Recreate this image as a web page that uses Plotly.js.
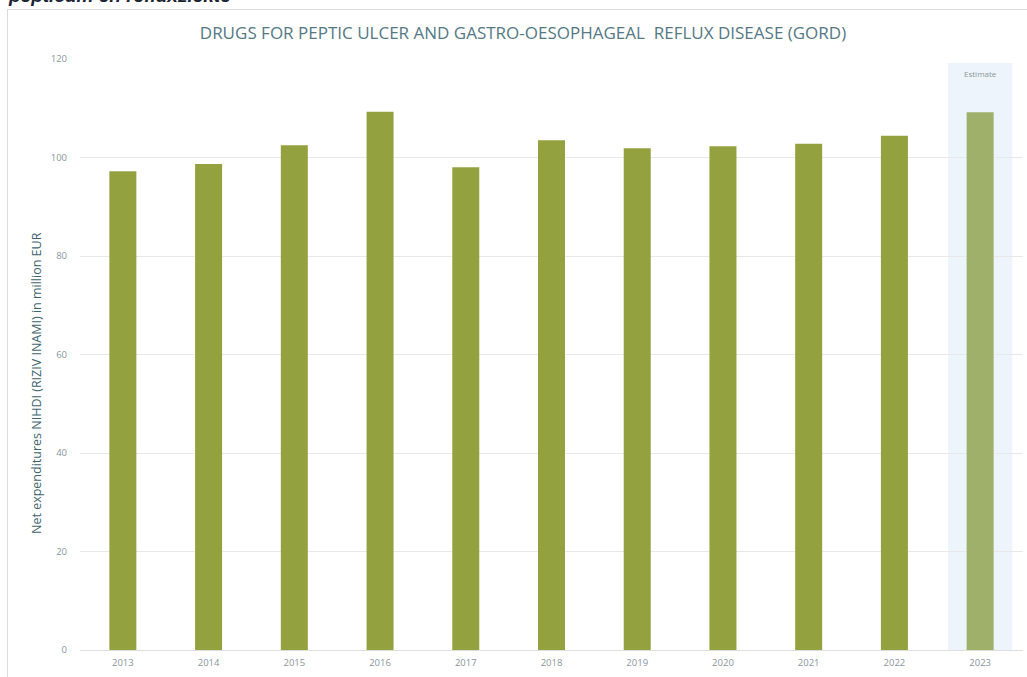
<!DOCTYPE html>
<html>
<head>
<meta charset="utf-8">
<script src="https://cdn.plot.ly/plotly-3.0.1.min.js"></script>
<style>
  html, body { margin: 0; padding: 0; background: #ffffff; overflow: hidden; }
  #frame { position: absolute; left: 7px; top: 9px; width: 1200px; height: 900px;
           border-top: 1px solid #dcdcdc; border-left: 1px solid #dcdcdc; }
  #chart { position: absolute; left: 0; top: 0; width: 1027px; height: 677px; }
</style>
</head>
<body>
<div id="frame"></div>
<div id="chart"></div>
<script>
// Data
const years = ["2013","2014","2015","2016","2017","2018","2019","2020","2021","2022","2023"];
const expenditure = [97.2, 98.7, 102.5, 109.3, 98.0, 103.5, 101.9, 102.3, 102.8, 104.4, 109.2];
const estimateYear = "2023";
const yTicks = [0, 20, 40, 60, 80, 100, 120];

const titleText = "DRUGS FOR PEPTIC ULCER AND GASTRO-OESOPHAGEAL  REFLUX DISEASE (GORD)";
const yTitleText = "Net expenditures NIHDI (RIZIV INAMI) in million EUR";
const topCaption = "pepticum en refluxziekte";

const barColors = years.map(y => y === estimateYear ? "#9fb06a" : "#93a23e");
const estIdx = years.indexOf(estimateYear);

const trace = {
  type: "bar",
  x: years,
  y: expenditure,
  marker: { color: barColors, line: { width: 0 } },
  hoverinfo: "x+y"
};

const plotTop = 59, plotBottom = 650, plotH = plotBottom - plotTop;
const plotLeft = 80, plotW = 943;

const layout = {
  width: 1027,
  height: 677,
  margin: { l: 80, r: 4, t: plotTop, b: 677 - plotBottom },
  paper_bgcolor: "rgba(0,0,0,0)",
  plot_bgcolor: "rgba(0,0,0,0)",
  bargap: 0.685,
  showlegend: false,
  title: {
    text: titleText,
    font: { family: "Open Sans, sans-serif", size: 17, color: "#547884" },
    x: (523 - plotLeft) / plotW, xref: "paper", xanchor: "center",
    y: 1 - 33 / 677, yref: "container", yanchor: "middle"
  },
  xaxis: {
    type: "category",
    categoryorder: "array",
    categoryarray: years,
    range: [-0.5, years.length - 0.5],
    autorange: false,
    showgrid: false,
    showline: false,
    zeroline: false,
    ticks: "",
    tickfont: { family: "Open Sans, sans-serif", size: 9.5, color: "#8a959b" },
    ticklabelstandoff: 5
  },
  yaxis: {
    range: [0, 120],
    autorange: false,
    tickvals: yTicks,
    ticktext: yTicks.map(String),
    showgrid: true,
    gridcolor: "#e8e8e8",
    gridwidth: 1,
    zeroline: true,
    zerolinecolor: "#dedede",
    zerolinewidth: 1,
    showline: false,
    ticks: "",
    tickfont: { family: "Open Sans, sans-serif", size: 9.5, color: "#8a959b" },
    ticklabelstandoff: 12
  },
  shapes: [{
    type: "rect",
    xref: "x", yref: "paper",
    x0: estIdx - 0.375, x1: estIdx + 0.375,
    y0: 0, y1: (plotBottom - 63) / plotH,
    fillcolor: "#eef4fb",
    line: { width: 0 },
    layer: "below"
  }],
  annotations: [
    {
      text: "Estimate",
      xref: "x", yref: "paper",
      x: estIdx, y: (plotBottom - 73) / plotH,
      xanchor: "center", yanchor: "middle",
      showarrow: false,
      font: { family: "Open Sans, sans-serif", size: 8, color: "#8a959b" }
    },
    {
      text: yTitleText,
      xref: "paper", yref: "paper",
      x: (36 - plotLeft) / plotW, y: (plotBottom - 383) / plotH,
      xanchor: "center", yanchor: "middle",
      textangle: -90,
      showarrow: false,
      font: { family: "Open Sans, sans-serif", size: 12.5, color: "#3f6470" }
    },
    {
      text: "<b><i>" + topCaption + "</i></b>",
      xref: "paper", yref: "paper",
      x: (6 - plotLeft) / plotW, y: (plotBottom - 8) / plotH,
      xanchor: "left", yanchor: "bottom",
      showarrow: false,
      font: { family: "Liberation Sans, sans-serif", size: 19, color: "#1a2433" }
    }
  ]
};

Plotly.newPlot("chart", [trace], layout, { displayModeBar: false, staticPlot: true });
</script>
</body>
</html>
